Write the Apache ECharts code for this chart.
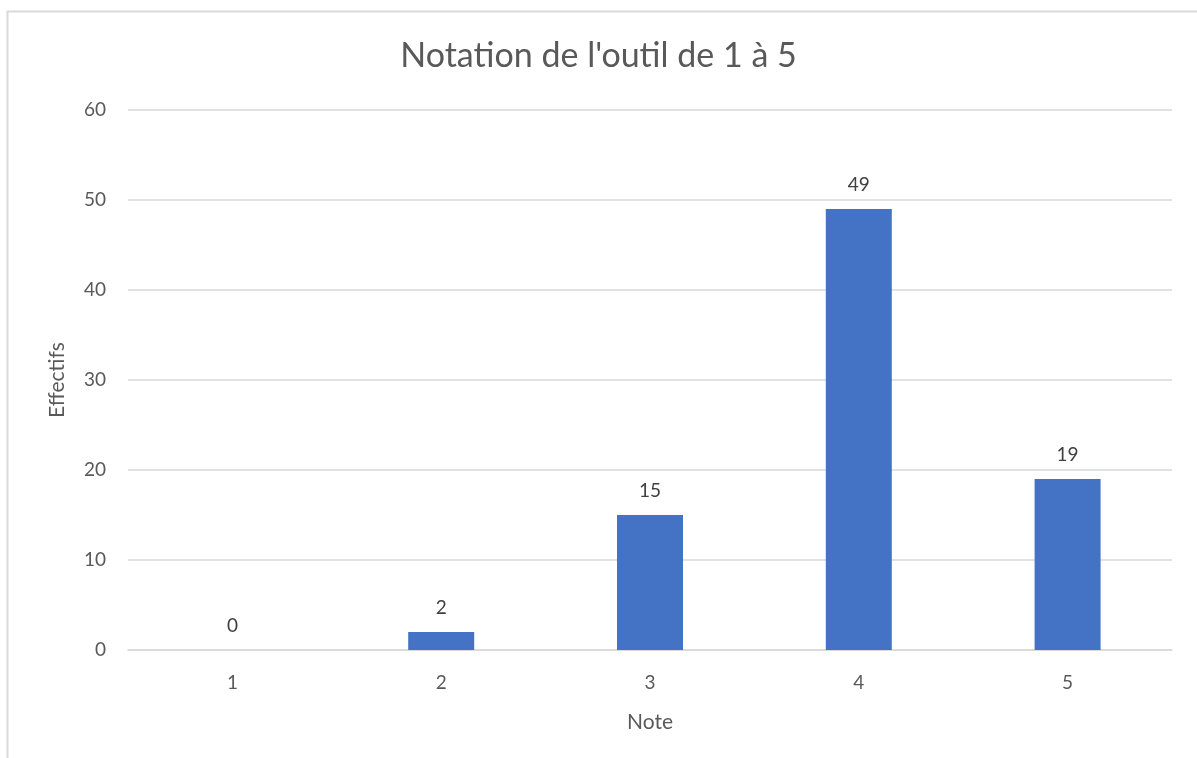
<!DOCTYPE html>
<html>
<head>
<meta charset="utf-8">
<script src="https://cdn.jsdelivr.net/npm/echarts@6/dist/echarts.min.js"></script>
<style>
  html, body { margin: 0; padding: 0; background: #fff; }
  #display { width: 1197px; height: 758px; }
</style>
</head>
<body>
<div id="display"></div>
<script>
// données du graphique
var notes = ['1', '2', '3', '4', '5'];
var effectifs = [0, 2, 15, 49, 19];

var myDisplay = echarts.init(document.getElementById('display'));
var font = 'Lato, "Open Sans", sans-serif';
var grey = '#595959';

myDisplay.setOption({
    animation: false,
    textStyle: { fontFamily: font },
    // cadre du graphique
    graphic: [{
        type: 'rect',
        shape: { x: 7.5, y: 11.5, width: 1300, height: 900 },
        style: { fill: 'none', stroke: '#d9d9d9', lineWidth: 2 },
        silent: true
    }],
    title: {
        text: "Notation de l'outil de 1 à 5",
        left: 'center',
        top: 34,
        textStyle: { fontFamily: font, fontSize: 34, fontWeight: 'normal', color: grey }
    },
    grid: { left: 128, right: 25, top: 110, bottom: 108 },
    xAxis: {
        type: 'category',
        data: notes,
        name: 'Note',
        nameLocation: 'middle',
        nameGap: 62,
        nameTextStyle: { fontFamily: font, fontSize: 21, color: grey },
        axisTick: { show: false },
        axisLine: { lineStyle: { color: '#d9d9d9', width: 1.5 } },
        axisLabel: { fontFamily: font, fontSize: 19, color: grey, margin: 23 }
    },
    yAxis: {
        type: 'value',
        min: 0,
        max: 60,
        interval: 10,
        name: 'Effectifs',
        nameLocation: 'middle',
        nameGap: 60,
        nameTextStyle: { fontFamily: font, fontSize: 21, color: grey },
        axisLine: { show: false },
        axisTick: { show: false },
        axisLabel: { fontFamily: font, fontSize: 19, color: grey, margin: 22 },
        splitLine: { lineStyle: { color: '#d9d9d9', width: 1.5 } }
    },
    series: [{
        type: 'bar',
        data: effectifs,
        barWidth: 66,
        itemStyle: { color: '#4472c4' },
        label: {
            show: true,
            position: 'top',
            distance: 15,
            fontFamily: font,
            fontSize: 19,
            color: '#404040'
        }
    }]
});

window.onresize = function () {
    myDisplay.resize();
};
</script>
</body>
</html>
